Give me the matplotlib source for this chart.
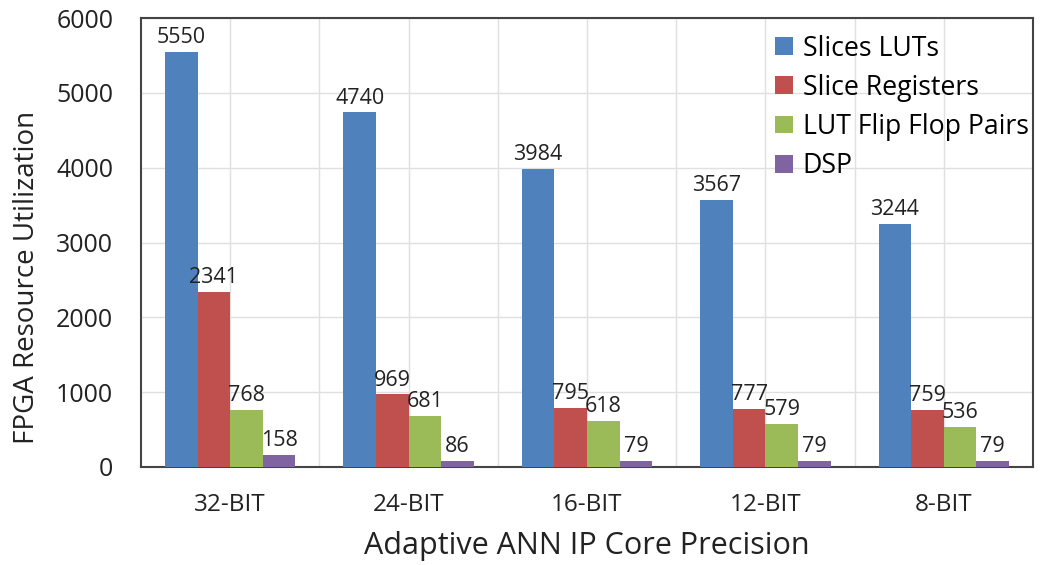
import matplotlib
matplotlib.use("Agg")
import matplotlib.pyplot as plt
import numpy as np

categories = ["32-BIT", "24-BIT", "16-BIT", "12-BIT", "8-BIT"]
series_names = ["Slices LUTs", "Slice Registers", "LUT Flip Flop Pairs", "DSP"]
slices_luts = [5550, 4740, 3984, 3567, 3244]
slice_registers = [2341, 969, 795, 777, 759]
lut_ff_pairs = [768, 681, 618, 579, 536]
dsp = [158, 86, 79, 79, 79]
colors = ["#4F81BD", "#C0504D", "#9BBB59", "#8064A2"]

plt.rcParams['font.family'] = ['Open Sans', 'DejaVu Sans']

fig = plt.figure(figsize=(10.55, 5.65), dpi=100)
ax = fig.add_axes([141/1055, 1-467/565, (1033-141)/1055, (467-18)/565])

x = np.arange(len(categories))
w = 0.183
data = [slices_luts, slice_registers, lut_ff_pairs, dsp]
for i, (vals, name, c) in enumerate(zip(data, series_names, colors)):
    pos = x + (i - 1.5) * w
    bars = ax.bar(pos, vals, w, color=c, label=name, zorder=3)
    for b, v in zip(bars, vals):
        ax.text(b.get_x() + b.get_width()/2, v + 50, str(v), ha='center', va='bottom',
                fontsize=15.5, color='#222222', zorder=4)

ax.set_xlim(-0.5, len(categories) - 0.5)
ax.set_ylim(0, 6000)
ax.set_yticks(np.arange(0, 6001, 1000))
ax.set_xticks(x)
ax.set_xticklabels(categories, fontsize=17.5)
ax.tick_params(axis='y', labelsize=18, length=0, pad=20, labelcolor='#222222')
ax.tick_params(axis='x', length=0, pad=19, labelcolor='#222222')
ax.grid(axis='y', color='#e0e0e0', lw=1, zorder=0)
for gx in np.arange(0, len(categories) - 0.5, 0.5):
    ax.axvline(gx, color='#e0e0e0', lw=1, zorder=0)
for s in ax.spines.values():
    s.set_color('#444444')
    s.set_linewidth(1.5)

ax.set_xlabel("Adaptive ANN IP Core Precision", fontsize=22, labelpad=10, color='#222222')
ax.set_ylabel("FPGA Resource Utilization", fontsize=20, color='#222222')
ax.yaxis.set_label_coords(-(141 - 41) / 892, (467 - 277) / 449)

leg = ax.legend(loc='upper right', frameon=False, fontsize=19.2, handlelength=0.7,
                handleheight=0.65, handletextpad=0.35, labelspacing=0.42,
                bbox_to_anchor=(1.0135, 1.0), borderaxespad=0.22)

fig.savefig("out.png", dpi=100)
